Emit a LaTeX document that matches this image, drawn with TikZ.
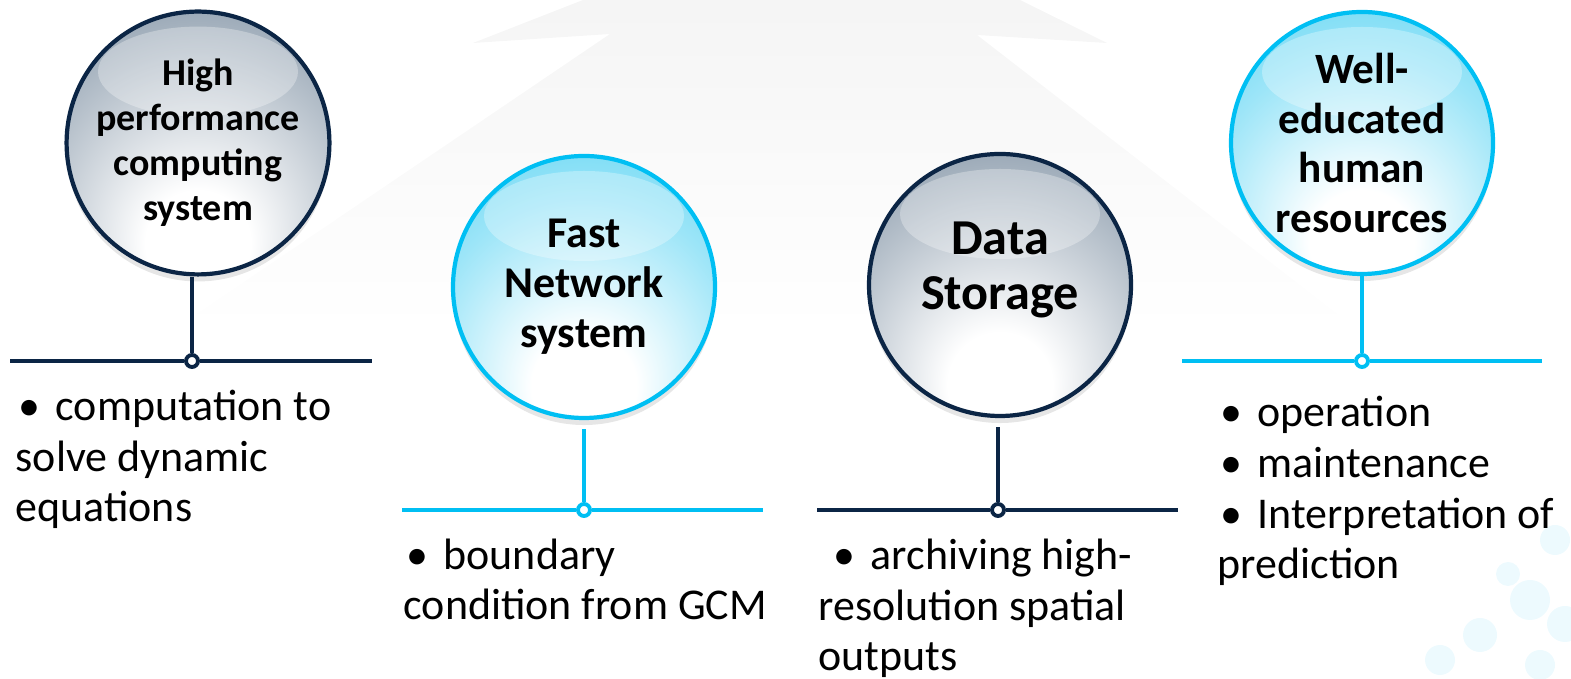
\documentclass[tikz,border=0pt]{standalone}
\usepackage{fontspec}
\setmainfont{Carlito}
\usetikzlibrary{shadows}

\definecolor{navy}{HTML}{0B2545}
\definecolor{skyblue}{HTML}{00BFF3}
\definecolor{ballgrey}{HTML}{6A7F94}
\definecolor{ballcyan}{HTML}{4CD0F2}

\pgfdeclareradialshading{darkshade}{\pgfpoint{0bp}{-22bp}}{color(0bp)=(white); color(10bp)=(white); color(30bp)=(ballgrey!50); color(50bp)=(ballgrey); color(75bp)=(ballgrey!85!black)}
\pgfdeclareradialshading{lightshade}{\pgfpoint{0bp}{-22bp}}{color(0bp)=(white); color(10bp)=(white); color(30bp)=(ballcyan!55); color(50bp)=(ballcyan); color(75bp)=(ballcyan!90!black)}

\tikzset{
 ball/.style={circle, minimum size=2.62cm, line width=1.2pt, align=center, inner sep=0pt,
   drop shadow={opacity=0.2, shadow xshift=0pt, shadow yshift=-2pt},
   path picture={\fill[white, opacity=0.3] ([yshift=-0.6cm]path picture bounding box.north) ellipse [x radius=1cm, y radius=0.45cm];}},
 darkball/.style={ball, draw=navy, shading=darkshade},
 lightball/.style={ball, draw=skyblue, shading=lightshade},
 bar/.style={line width=1.4pt},
 ring/.style={circle, draw, fill=white, line width=1.1pt, minimum size=0.12cm, inner sep=0pt},
 notes/.style={anchor=base west, align=left, inner sep=0pt, font=\fontsize{12.5}{14.5}\selectfont},
}
\newcommand{\bul}{\makebox[0.4cm][l]{\hspace{0.03cm}\textbullet}}

\begin{document}
\begin{tikzpicture}
 \useasboundingbox (0,0) rectangle (15.71,6.79);
 % faint arrow and dots behind
 \shade[top color=black!4, bottom color=white] (1.73,3.49) -- (6.10,6.45) -- (4.73,6.36) -- (5.83,6.79) -- (10.20,6.79) -- (11.07,6.36) -- (9.77,6.44) -- (13.58,3.49) -- cycle;
 \foreach \x/\y/\r in {15.30/0.79/0.2, 14.80/0.44/0.17, 15.55/1.39/0.15, 15.40/0.14/0.15, 15.08/1.05/0.12, 14.40/0.19/0.15, 15.65/0.55/0.18}
   \fill[skyblue!7] (\x,\y) circle (\r);

 \node[darkball, font=\fontsize{10.8}{12.8}\selectfont\bfseries] (hpc) at (1.98,5.36) {High\\performance\\computing\\system};
 \node[lightball, font=\fontsize{12.5}{14.2}\selectfont\bfseries] (net) at (5.84,3.92) {Fast\\Network\\system};
 \node[darkball] (store) at (10.00,3.94) {};
 \node[align=center, font=\fontsize{14.3}{15.6}\selectfont\bfseries] (storetext) at ([yshift=0.15cm]store.center) {Data\\Storage};
 \node[lightball, font=\fontsize{12.3}{14.2}\selectfont\bfseries] (human) at (13.62,5.36) {Well-\\educated\\human\\resources};

 \node[ring, draw=navy] (hpcdot) at (1.92,3.18) {};
 \node[ring, draw=skyblue] (netdot) at (5.84,1.69) {};
 \node[ring, draw=navy] (storedot) at (9.98,1.69) {};
 \node[ring, draw=skyblue] (humandot) at (13.62,3.18) {};
 \coordinate (hpcL) at (0.10,3.18);   \coordinate (hpcR) at (3.72,3.18);
 \coordinate (netL) at (4.02,1.69);   \coordinate (netR) at (7.63,1.69);
 \coordinate (storeL) at (8.17,1.69); \coordinate (storeR) at (11.78,1.69);
 \coordinate (humanL) at (11.82,3.18); \coordinate (humanR) at (15.42,3.18);

 \draw[bar, navy] (hpcL) -- (hpcdot) -- (hpcR);
 \draw[bar, navy] (hpc.south -| hpcdot) -- (hpcdot);
 \draw[bar, skyblue] (netL) -- (netdot) -- (netR);
 \draw[bar, skyblue, shorten <=0.09cm] (net.south) -- (netdot);
 \draw[bar, navy] (storeL) -- (storedot) -- (storeR);
 \draw[bar, navy, shorten <=0.09cm] (store.south -| storedot) -- (storedot);
 \draw[bar, skyblue] (humanL) -- (humandot) -- (humanR);
 \draw[bar, skyblue] (human.south) -- (humandot);

 \node[notes] (hpctxt) at (0.15,1.57) {\bul computation to\\solve dynamic\\equations};
 \node[notes] (nettxt) at (4.03,0.59) {\bul boundary\\condition from GCM};
 \node[notes] (storetxt) at (8.18,0.08) {\hspace{0.12cm}\bul archiving high-\\resolution spatial\\outputs};
 \node[notes] (humantxt) at (12.17,1.00) {\bul operation\\\bul maintenance\\\bul Interpretation of\\prediction};
\end{tikzpicture}
\end{document}
